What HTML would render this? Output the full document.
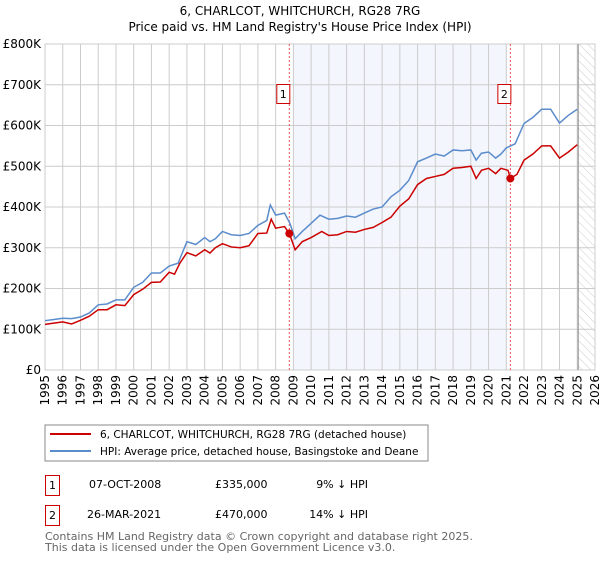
<!DOCTYPE html>
<html><head><meta charset="utf-8"><style>
body{margin:0;background:#fff;width:600px;height:560px;overflow:hidden;font-family:"DejaVu Sans","Liberation Sans",sans-serif}
svg text{font-family:"DejaVu Sans","Liberation Sans",sans-serif}
</style></head><body>
<svg id="chart" width="600" height="560">
<defs><pattern id="hatch" width="6" height="6" patternUnits="userSpaceOnUse" patternTransform="rotate(-45)"><line x1="0" y1="0" x2="0" y2="6" stroke="#ccc" stroke-width="1"/></pattern></defs>
<text x="300" y="15" text-anchor="middle" font-size="12">6, CHARLCOT, WHITCHURCH, RG28 7RG</text>
<text x="300" y="31" text-anchor="middle" font-size="12">Price paid vs. HM Land Registry's House Price Index (HPI)</text>
<g id="plot"></g>
<rect x="45" y="425" width="383" height="36" fill="#fff" stroke="#888"/>
<line x1="50" y1="434" x2="91" y2="434" stroke="#cc0000" stroke-width="2"/>
<text x="100" y="438" font-size="10.5">6, CHARLCOT, WHITCHURCH, RG28 7RG (detached house)</text>
<line x1="50" y1="451" x2="91" y2="451" stroke="#5b8ccc" stroke-width="2"/>
<text x="100" y="455" font-size="10.5">HPI: Average price, detached house, Basingstoke and Deane</text>
<g>
<rect x="45.5" y="475.5" width="14" height="20" fill="none" stroke="#cc0000"/><text x="52.5" y="489" font-size="11" text-anchor="middle">1</text>
<text x="89" y="488" font-size="11">07-OCT-2008</text><text x="215" y="488" font-size="11">£335,000</text><text x="368" y="488" font-size="11" text-anchor="end">9% ↓ HPI</text></g>
<g>
<rect x="45.5" y="505.5" width="14" height="20" fill="none" stroke="#cc0000"/><text x="52.5" y="519" font-size="11" text-anchor="middle">2</text>
<text x="87" y="518" font-size="11">26-MAR-2021</text><text x="215" y="518" font-size="11">£470,000</text><text x="368" y="518" font-size="11" text-anchor="end">14% ↓ HPI</text></g>
<text x="45" y="540" font-size="11" fill="#666">Contains HM Land Registry data © Crown copyright and database right 2025.</text>
<text x="45" y="551" font-size="11" fill="#666">This data is licensed under the Open Government Licence v3.0.</text>
</svg>
<script>
const hpiYears=[1995,1995.5,1996,1996.5,1997,1997.5,1998,1998.5,1999,1999.5,2000,2000.5,2001,2001.5,2002,2002.5,2003,2003.5,2004,2004.3,2004.6,2005,2005.5,2006,2006.5,2007,2007.5,2007.7,2008,2008.5,2008.8,2009.1,2009.5,2010,2010.5,2011,2011.5,2012,2012.5,2013,2013.5,2014,2014.5,2015,2015.5,2016,2016.5,2017,2017.5,2018,2018.5,2019,2019.3,2019.6,2020,2020.4,2020.7,2021,2021.5,2022,2022.5,2023,2023.5,2024,2024.5,2025];
const hpiValues=[121,124,127,126,130,140,160,162,172,172,203,215,238,238,255,262,315,308,325,315,322,340,332,330,335,355,367,405,380,385,360,322,340,360,380,370,372,378,375,385,395,400,425,441,465,511,520,530,525,540,538,540,515,532,535,520,530,545,555,605,620,640,640,606,625,640];
const redYears=[1995,1995.5,1996,1996.5,1997,1997.5,1998,1998.5,1999,1999.5,2000,2000.5,2001,2001.5,2002,2002.3,2002.6,2003,2003.5,2004,2004.3,2004.6,2005,2005.5,2006,2006.5,2007,2007.5,2007.75,2008,2008.5,2008.77,2009.1,2009.5,2010,2010.6,2011,2011.5,2012,2012.5,2013,2013.5,2014,2014.5,2015,2015.5,2016,2016.5,2017,2017.5,2018,2018.5,2019,2019.3,2019.6,2020,2020.4,2020.7,2021.1,2021.23,2021.6,2022,2022.5,2023,2023.5,2024,2024.5,2025];
const redValues=[112,115,118,113,122,132,148,148,160,158,185,198,215,216,240,235,262,288,280,295,287,300,310,302,300,305,335,336,370,348,352,335,295,315,325,340,330,332,340,338,345,350,362,375,402,420,455,470,475,480,495,497,500,470,490,495,482,495,490,470,480,515,530,550,550,520,535,553];
const yTicks=[0,100,200,300,400,500,600,700,800];
const yTickLabels=["£0","£100K","£200K","£300K","£400K","£500K","£600K","£700K","£800K"];
const xTicks=[1995,1996,1997,1998,1999,2000,2001,2002,2003,2004,2005,2006,2007,2008,2009,2010,2011,2012,2013,2014,2015,2016,2017,2018,2019,2020,2021,2022,2023,2024,2025,2026];
const saleYears=[2008.77,2021.23];
const saleValues=[335,470];
const saleLabels=["1","2"];
const X0=45,X1=595,Y0=370,Y1=44;
const xs=y=>X0+(y-1995)/(2026-1995)*(X1-X0);
const ys=v=>Y0-v/800*(Y0-Y1);
const NS="http://www.w3.org/2000/svg";
const g=document.getElementById('plot');
function mk(t,a){const e=document.createElementNS(NS,t);for(const k in a)e.setAttribute(k,a[k]);g.appendChild(e);return e;}
let e=mk('rect',{x:xs(2009),y:Y1,width:xs(2021)-xs(2009),height:Y0-Y1,fill:'#f0f4fd',opacity:0.8});


e=mk('rect',{x:xs(2025),y:Y1,width:X1-xs(2025),height:Y0-Y1,fill:'url(#hatch)'});


yTicks.forEach((t,i)=>{
 e=mk('line',{x1:X0,x2:X1,y1:ys(t),y2:ys(t),stroke:'#ccc'});
 
 
 e=mk('text',{x:X0-4,y:ys(t)+4,'text-anchor':'end','font-size':12});
 e.textContent=yTickLabels[i];
 
 
});
xTicks.forEach(t=>{
 e=mk('line',{x1:xs(t),x2:xs(t),y1:Y1,y2:Y0,stroke:'#ccc'});
 
 
 e=mk('text',{x:xs(t)+4,y:Y0+5,'text-anchor':'end','font-size':12,transform:`rotate(-90 ${xs(t)+4} ${Y0+5})`});
 e.textContent=t;
 
 
});
e=mk('rect',{x:X0,y:Y1,width:X1-X0,height:Y0-Y1,fill:'none',stroke:'#ccc'});


e=mk('line',{x1:xs(2025.05),x2:xs(2025.05),y1:Y1,y2:Y0,stroke:'#888'});


saleYears.forEach((y,i)=>{
 e=mk('line',{x1:xs(y),x2:xs(y),y1:Y1,y2:Y0,stroke:'#ee5555','stroke-dasharray':'2,2'});
 
 
});
e=mk('polyline',{points:hpiYears.map((y,i)=>xs(y)+','+ys(hpiValues[i])).join(' '),fill:'none',stroke:'#5b8ccc','stroke-width':1.5});


e=mk('polyline',{points:redYears.map((y,i)=>xs(y)+','+ys(redValues[i])).join(' '),fill:'none',stroke:'#cc0000','stroke-width':1.5});


saleYears.forEach((y,i)=>{
 e=mk('circle',{cx:xs(y),cy:ys(saleValues[i]),r:4,fill:'#cc0000'});
 
 
 e=mk('rect',{x:xs(y)-12.5,y:84.5,width:13,height:19,fill:'#fff',stroke:'#cc0000'});
 
 
 e=mk('text',{x:xs(y)-6,y:98,'text-anchor':'middle','font-size':11});
 e.textContent=saleLabels[i];
 
 
});
</script>
</body></html>
